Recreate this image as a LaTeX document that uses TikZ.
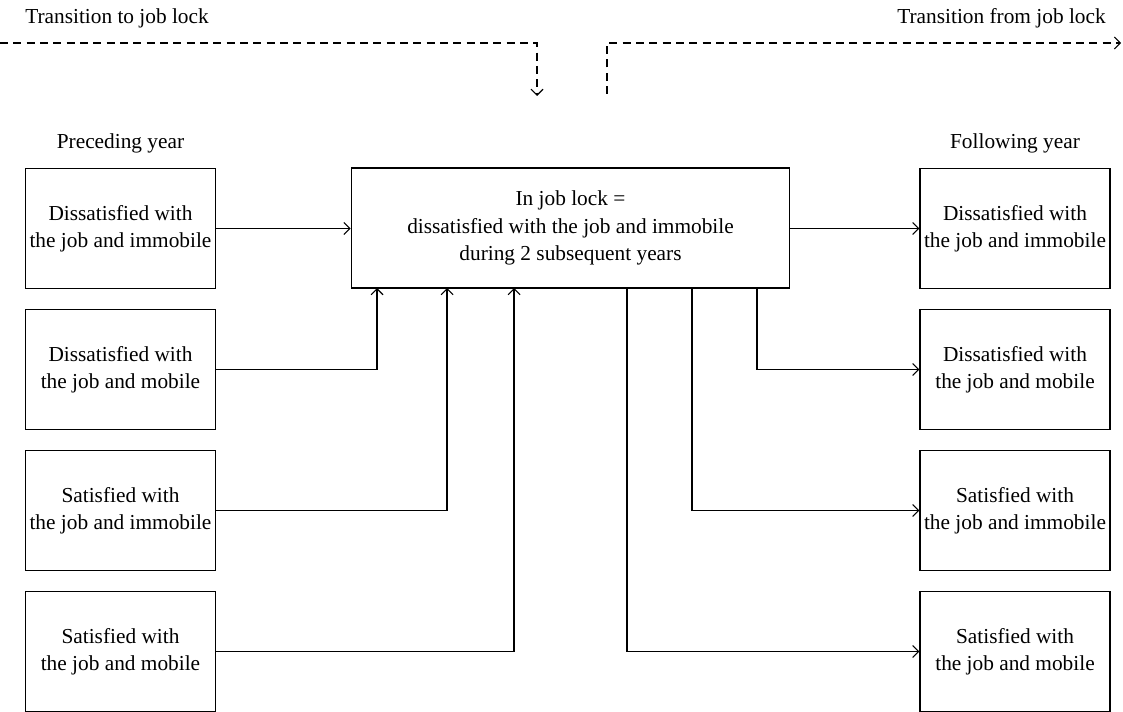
\documentclass[tikz,border=0pt]{standalone}
\usepackage{fontspec}
\setmainfont{Liberation Serif}
\usetikzlibrary{arrows.meta}
\begin{document}
\begin{tikzpicture}[x=0.75pt,y=-0.75pt,
  every node/.style={font=\fontsize{16}{20.5}\selectfont, inner sep=0pt, align=center},
  box/.style={draw, line width=0.9pt, minimum width=143pt, minimum height=90.5pt},
  rbox/.style={draw, line width=0.9pt, minimum width=142.5pt, minimum height=90.5pt},
  cbox/.style={draw, line width=0.9pt, minimum width=329pt, minimum height=90pt},
  conn/.style={line width=0.8pt, -{Straight Barb[length=4.5pt,width=9pt]}},
  dconn/.style={conn, dash pattern=on 6pt off 4pt},
  lbl/.style={}
]
\useasboundingbox (0,0) rectangle (1123,712);
% labels
\node[lbl, anchor=west] (tto) at (25,18) {Transition to job lock};
\node[lbl, anchor=east] (tfrom) at (1106,18) {Transition from job lock};
\node[lbl] (prec) at (120.5,143) {Preceding year};
\node[lbl] (foll) at (1015,143) {Following year};
% center box
\node[cbox] (C) at (570.5,228) {In job lock =\\dissatisfied with the job and immobile\\during 2 subsequent years};
% left boxes
\node[box] (L1) at (120.5,228.5) {Dissatisfied with\\the job and immobile};
\node[box] (L2) at (120.5,369.5) {Dissatisfied with\\the job and mobile};
\node[box] (L3) at (120.5,510.5) {Satisfied with\\the job and immobile};
\node[box] (L4) at (120.5,651.5) {Satisfied with\\the job and mobile};
% right boxes
\node[rbox] (R1) at (1015,228.5) {Dissatisfied with\\the job and immobile};
\node[rbox] (R2) at (1015,369.5) {Dissatisfied with\\the job and mobile};
\node[rbox] (R3) at (1015,510.5) {Satisfied with\\the job and immobile};
\node[rbox] (R4) at (1015,651.5) {Satisfied with\\the job and mobile};
% attachment points on center box bottom
\coordinate (u1) at (377,288);
\coordinate (u2) at (447,288);
\coordinate (u3) at (514,288);
\coordinate (d3) at (627,288);
\coordinate (d2) at (692,288);
\coordinate (d1) at (757,288);
% connectors left
\draw[conn] (L1.east) -- (L1.east -| C.west);
\draw[conn] (L2.east) -| (u1);
\draw[conn] (L3.east) -| (u2);
\draw[conn] (L4.east) -| (u3);
% connectors right
\draw[conn] (C.east |- R1.west) -- (R1.west);
\draw[conn] (d1) |- (R2.west);
\draw[conn] (d2) |- (R3.west);
\draw[conn] (d3) |- (R4.west);
% dashed transitions
\coordinate (a0) at (0,43);
\coordinate (a1) at (537,43);
\coordinate (a2) at (537,96);
\coordinate (b0) at (607,94);
\coordinate (b1) at (607,43);
\coordinate (b2) at (1121,43);
\draw[dconn] (a0) -- (a1) -- (a2);
\draw[dconn] (b0) -- (b1) -- (b2);
\end{tikzpicture}
\end{document}
